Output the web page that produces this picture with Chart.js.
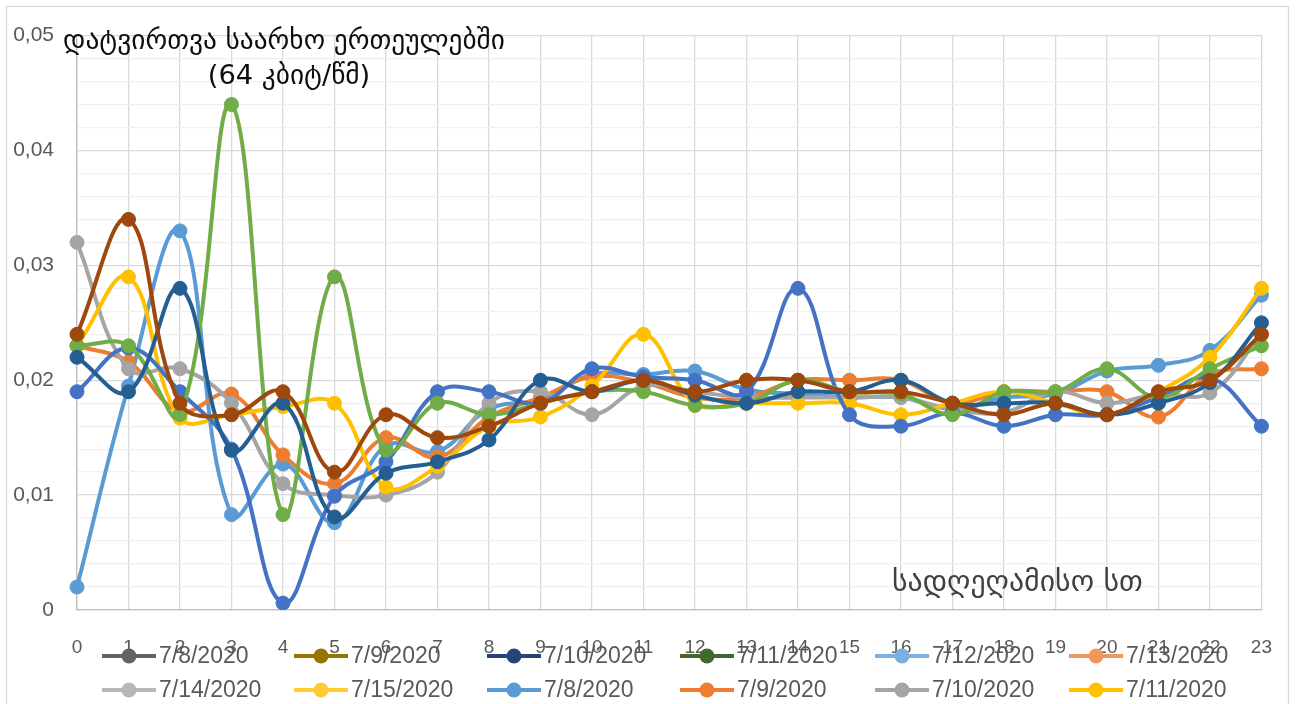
<!DOCTYPE html>
<html>
<head>
<meta charset="utf-8">
<script src="https://cdn.jsdelivr.net/npm/chart.js@4.4.1/dist/chart.umd.min.js"></script>
<style>
  html, body { margin: 0; padding: 0; background: #ffffff; }
  #wrap { width: 1298px; height: 704px; position: relative; }
</style>
</head>
<body>
<div id="wrap"><canvas id="c" width="1298" height="704"></canvas></div>
<script>
// Hour of day (x categories)
const hours = ['0','1','2','3','4','5','6','7','8','9','10','11','12','13','14','15','16','17','18','19','20','21','22','23'];

// Load per channel unit (64 kbit/s), one array per day
const day1 = [0.002, 0.0195, 0.033, 0.0083, 0.0127, 0.0076, 0.0143, 0.0138, 0.0175, 0.0183, 0.0205, 0.0205, 0.0208, 0.0192, 0.0188, 0.0185, 0.0185, 0.0175, 0.0185, 0.0188, 0.0208, 0.0213, 0.0226, 0.0274];
const day2 = [0.023, 0.0216, 0.0173, 0.0188, 0.0135, 0.011, 0.015, 0.0133, 0.0168, 0.0185, 0.0203, 0.0198, 0.0185, 0.0185, 0.020, 0.020, 0.020, 0.018, 0.019, 0.019, 0.019, 0.0168, 0.0205, 0.021];
const day3 = [0.032, 0.021, 0.021, 0.018, 0.011, 0.010, 0.010, 0.012, 0.018, 0.019, 0.017, 0.0195, 0.019, 0.0185, 0.0185, 0.0185, 0.0185, 0.0175, 0.0172, 0.019, 0.018, 0.0188, 0.0189, 0.024];
const day4 = [0.023, 0.029, 0.0167, 0.017, 0.0177, 0.018, 0.0107, 0.0125, 0.016, 0.0168, 0.0195, 0.024, 0.018, 0.018, 0.018, 0.018, 0.017, 0.018, 0.019, 0.018, 0.017, 0.019, 0.022, 0.028];
const day5 = [0.019, 0.0228, 0.019, 0.014, 0.0006, 0.0099, 0.0129, 0.019, 0.019, 0.018, 0.021, 0.0203, 0.020, 0.019, 0.028, 0.017, 0.016, 0.0172, 0.016, 0.017, 0.017, 0.0185, 0.0202, 0.016];
const day6 = [0.023, 0.023, 0.017, 0.044, 0.0083, 0.029, 0.0139, 0.018, 0.017, 0.018, 0.019, 0.019, 0.0178, 0.018, 0.020, 0.019, 0.0188, 0.017, 0.019, 0.019, 0.021, 0.0185, 0.021, 0.023];
const day7 = [0.022, 0.019, 0.028, 0.0139, 0.018, 0.0081, 0.0119, 0.0129, 0.0148, 0.020, 0.019, 0.020, 0.0187, 0.018, 0.019, 0.019, 0.020, 0.018, 0.018, 0.018, 0.017, 0.018, 0.0198, 0.025];
const day8 = [0.024, 0.034, 0.018, 0.017, 0.019, 0.012, 0.017, 0.015, 0.016, 0.018, 0.019, 0.020, 0.019, 0.020, 0.020, 0.019, 0.019, 0.018, 0.017, 0.018, 0.017, 0.019, 0.020, 0.024];

const seriesLabels = ['7/8/2020','7/9/2020','7/10/2020','7/11/2020','7/12/2020','7/13/2020','7/14/2020','7/15/2020'];
const seriesValues = [day1, day2, day3, day4, day5, day6, day7, day8];
const seriesColors = ['#5B9BD5','#ED7D31','#A5A5A5','#FFC000','#4472C4','#70AD47','#255E91','#9E480E'];

// Legend entries
const legendLabels = ['7/8/2020','7/9/2020','7/10/2020','7/11/2020','7/12/2020','7/13/2020',
                      '7/14/2020','7/15/2020','7/8/2020','7/9/2020','7/10/2020','7/11/2020'];
const legendColors = ['#636363','#997300','#264478','#43682B','#7CAFDD','#F1975A',
                      '#B7B7B7','#FFCD33','#5B9BD5','#ED7D31','#A5A5A5','#FFC000'];

// Y tick labels (every 0.01)
const yTickLabels = ['0','0,01','0,02','0,03','0,04','0,05'];

const chartTitle = ['დატვირთვა საარხო ერთეულებში', '(64 კბიტ/წმ)'];
const xTitle = 'სადღეღამისო სთ';

const GEO_FONT = '"DejaVu Sans", "Noto Sans", sans-serif';
const LAT_FONT = '"Liberation Sans", Arial, sans-serif';

const datasets = seriesValues.map((vals, i) => ({
  label: seriesLabels[i],
  data: vals,
  borderColor: seriesColors[i],
  backgroundColor: seriesColors[i],
  pointBackgroundColor: seriesColors[i],
  pointBorderColor: seriesColors[i],
  borderWidth: 4,
  pointRadius: 7,
  pointBorderWidth: 1,
  tension: 0.4,
  fill: false,
  order: -i
}));

function fitSize(ctx, text, family, width) {
  ctx.font = '100px ' + family;
  return 100 * width / ctx.measureText(text).width;
}

const decorations = {
  id: 'decorations',
  beforeDraw(chart) {
    const ctx = chart.ctx;
    ctx.save();
    ctx.fillStyle = '#ffffff';
    ctx.fillRect(0, 0, chart.width, chart.height);
    ctx.strokeStyle = '#d9d9d9';
    ctx.lineWidth = 1.3;
    ctx.strokeRect(6.5, 6.5, 1282, 720);
    ctx.restore();
  },
  afterDraw(chart) {
    const ctx = chart.ctx;
    ctx.save();
    // chart title
    const tSize = fitSize(ctx, chartTitle[0], GEO_FONT, 442);
    ctx.font = tSize.toFixed(2) + 'px ' + GEO_FONT;
    ctx.fillStyle = '#0d0d0d';
    ctx.textAlign = 'center';
    ctx.textBaseline = 'middle';
    ctx.fillText(chartTitle[0], 284, 42);
    ctx.fillText(chartTitle[1], 289, 77);

    // x axis title, inside the plot
    const xSize = fitSize(ctx, xTitle, GEO_FONT, 251);
    ctx.font = xSize.toFixed(2) + 'px ' + GEO_FONT;
    ctx.fillStyle = '#404040';
    ctx.textAlign = 'left';
    ctx.fillText(xTitle, 892, 583);

    // legend, two rows of six
    const cols = [102, 294, 487, 680, 875, 1069];
    const rows = [656, 690];
    ctx.font = '23px ' + LAT_FONT;
    legendLabels.forEach((lab, i) => {
      const x = cols[i % 6];
      const y = rows[Math.floor(i / 6)];
      const c = legendColors[i];
      ctx.strokeStyle = c;
      ctx.lineWidth = 4;
      ctx.beginPath();
      ctx.moveTo(x, y);
      ctx.lineTo(x + 54, y);
      ctx.stroke();
      ctx.fillStyle = c;
      ctx.beginPath();
      ctx.arc(x + 27, y, 7.5, 0, Math.PI * 2);
      ctx.fill();
      ctx.fillStyle = '#595959';
      ctx.textAlign = 'left';
      ctx.textBaseline = 'middle';
      ctx.fillText(lab, x + 57, y + 1);
    });
    ctx.restore();
  }
};

new Chart(document.getElementById('c'), {
  type: 'line',
  data: { labels: hours, datasets },
  options: {
    responsive: false,
    animation: false,
    devicePixelRatio: 1,
    layout: { padding: { top: 32, right: 36, left: 0, bottom: 0 } },
    plugins: {
      legend: { display: false },
      title: { display: false },
      tooltip: { enabled: false }
    },
    scales: {
      x: {
        offset: false,
        ticks: { color: '#595959', font: { family: LAT_FONT, size: 19 }, padding: 26, maxRotation: 0, autoSkip: false },
        grid: { drawTicks: false, color: '#d9d9d9', lineWidth: 1.3 },
        border: { color: '#bfbfbf', width: 1.3 },
        afterFit(s) { s.height = 94; }
      },
      y: {
        min: 0,
        max: 0.05,
        ticks: {
          stepSize: 0.002,
          autoSkip: false,
          padding: 23,
          color: '#595959',
          font: { family: LAT_FONT, size: 21 },
          callback(v) {
            const k = Math.round(v * 1000);
            return k % 10 === 0 ? yTickLabels[k / 10] : '';
          }
        },
        grid: {
          drawTicks: false,
          lineWidth: 1.3,
          color(ctx) {
            const k = Math.round(ctx.tick.value * 1000);
            return k % 10 === 0 ? '#d9d9d9' : '#f0f0f0';
          }
        },
        border: { color: '#bfbfbf', width: 1.3 },
        afterFit(s) { s.width = 77; }
      }
    }
  },
  plugins: [decorations]
});
</script>
</body>
</html>
